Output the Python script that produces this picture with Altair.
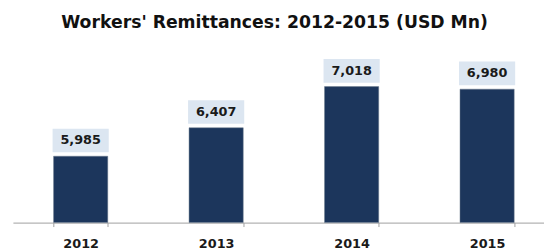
import altair as alt
import pandas as pd

years = ["2012", "2013", "2014", "2015"]
values = [5985, 6407, 7018, 6980]
labels = ["5,985", "6,407", "7,018", "6,980"]

df = pd.DataFrame({"year": years, "value": values, "label": labels})

x = alt.X(
    "year:N",
    title=None,
    sort=years,
    scale=alt.Scale(range=[0, 550], paddingInner=0.6, paddingOuter=0.3),
    axis=alt.Axis(
        labelAngle=0,
        labelFont="DejaVu Sans",
        labelFontWeight="bold",
        labelFontSize=13,
        labelColor="#1a1a1a",
        labelPadding=11,
        domainColor="#a0a0a0",
        tickColor="#a0a0a0",
        tickSize=4,
        tickBand="extent",
        grid=False,
    ),
)
y = alt.Y("value:Q", title=None, scale=alt.Scale(domain=[5000, 7500], zero=False, nice=False), axis=None)

bars = alt.Chart(df).mark_bar(width=55, color="#1c365c", stroke="#6b7a8c", strokeWidth=0.5).encode(
    x=x, y=y, y2=alt.datum(5000)
)

boxes = alt.Chart(df).mark_bar(width=57, color="#dce6f1", yOffset=-28, y2Offset=-4).encode(
    x=x, y=y, y2=alt.Y2("value:Q")
)

text = alt.Chart(df).mark_text(
    font="DejaVu Sans", fontWeight="bold", fontSize=13, color="#1a1a1a", dy=-16, baseline="middle"
).encode(x=x, y=y, text="label:N")

chart = (
    alt.layer(bars, boxes, text)
    .properties(
        width=538,
        height=171,
        padding={"left": 5, "right": 1, "top": 45, "bottom": 26},
        autosize=alt.AutoSizeParams(type="none"),
        title=alt.TitleParams(
            "Workers' Remittances: 2012-2015 (USD Mn)",
            font="DejaVu Sans",
            fontSize=17.5,
            fontWeight="bold",
            color="#111111",
            anchor="start",
            dx=49,
            offset=23,
        ),
    )
    .configure_view(stroke=None)
)

chart.save("out.html", embed_options={"renderer": "svg", "actions": False})
